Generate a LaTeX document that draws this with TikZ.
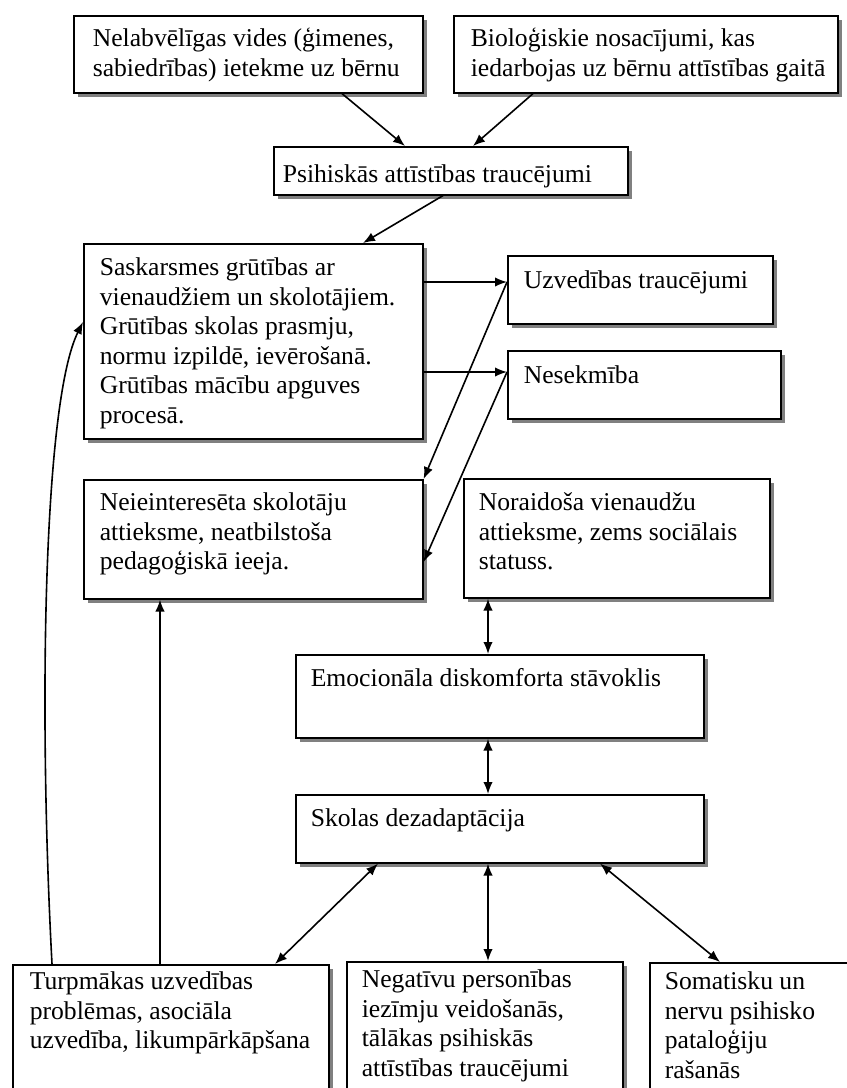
\documentclass[tikz,border=0pt]{standalone}
\usepackage{fontspec}
\setmainfont{Liberation Serif}
\usetikzlibrary{arrows.meta,calc,shadows}
\newdimen\pxu \pxu=0.468pt
% box text: width, height, left pad, top pad, lines
\newcommand{\boxtext}[5]{\parbox[c][#2\pxu][t]{#1\pxu}{\raggedright\leftskip=#3\pxu\vspace*{#4\pxu}\strut#5}}
\begin{document}
\begin{tikzpicture}[x=\pxu,y=-\pxu,line width=0.75pt,
    font=\fontsize{12}{13.8}\selectfont,
    >={Latex[length=5.6pt,width=4.4pt]},
    stage/.style={draw,fill=white,anchor=north west,inner sep=0pt,
        drop shadow={shadow xshift=4.5\pxu,shadow yshift=-4.5\pxu,fill=black!50,opacity=1}}]
    \useasboundingbox (0,0) rectangle (846,1088);

    \node[stage] (env) at (73,15) {\boxtext{349}{77}{19}{10.4}{Nelabvēlīgas vides (ģimenes,\\ sabiedrības) ietekme uz bērnu}};
    \node[stage] (bio) at (453,15) {\boxtext{384}{77}{17}{10.4}{Bioloģiskie nosacījumi, kas\\ iedarbojas uz bērnu attīstības gaitā}};
    \node[stage] (psih) at (273,146) {\boxtext{354}{48}{9}{15.4}{Psihiskās attīstības traucējumi}};
    \node[stage] (comm) at (83,243) {\boxtext{339}{195}{16}{11.4}{Saskarsmes grūtības ar\\ vienaudžiem un skolotājiem.\\ Grūtības skolas prasmju,\\ normu izpildē, ievērošanā.\\ Grūtības mācību apguves\\ procesā.}};
    \node[stage] (behav) at (507,255) {\boxtext{265}{68}{16}{12.4}{Uzvedības traucējumi}};
    \node[stage] (fail) at (507,350) {\boxtext{273}{68}{16}{12.4}{Nesekmība}};
    \node[stage] (teach) at (83,479) {\boxtext{339}{119}{16}{10.4}{Neieinteresēta skolotāju\\ attieksme, neatbilstoša\\ pedagoģiskā ieeja.}};
    \node[stage] (peers) at (463,478) {\boxtext{306}{119}{15}{11.4}{Noraidoša vienaudžu\\ attieksme, zems sociālais\\ statuss.}};
    \node[stage] (emo) at (295,654) {\boxtext{408}{83}{15}{11.4}{Emocionāla diskomforta stāvoklis}};
    \node[stage] (desad) at (295,794) {\boxtext{408}{68}{15}{11.4}{Skolas dezadaptācija}};
    \node[stage] (conduct) at (12,964) {\boxtext{316}{140}{17}{4.4}{Turpmākas uzvedības\\ problēmas, asociāla\\ uzvedība, likumpārkāpšana}};
    \node[stage] (pers) at (346,961) {\boxtext{276}{140}{15}{5.4}{Negatīvu personības\\ iezīmju veidošanās,\\ tālākas psihiskās\\ attīstības traucējumi}};
    \node[stage] (soma) at (649,962) {\boxtext{220}{140}{15}{6.4}{Somatisku un\\ nervu psihisko\\ pataloģiju\\ rašanās}};

    \draw[->] ($(env.south west)+(269,0)$) -- ($(psih.north west)+(132,0)$);
    \draw[->] ($(bio.south west)+(80,0)$) -- ($(psih.north west)+(200,0)$);
    \draw[->] ($(psih.south west)+(170,0)$) -- ($(comm.north west)+(280,0)$);
    \draw[->] ($(comm.north east)+(0,39)$) -- ($(behav.north west)+(0,27)$);
    \draw[->] ($(comm.north east)+(0,129)$) -- ($(fail.north west)+(0,22)$);
    \draw[->] ($(behav.north west)+(0,27)$) -- (teach.north east);
    \draw[->] ($(fail.north west)+(0,22)$) -- ($(teach.north east)+(0,83)$);
    \draw[<->] ($(peers.south west)+(25,0)$) -- ($(emo.north west)+(193,0)$);
    \draw[<->] ($(emo.south west)+(193,0)$) -- ($(desad.north west)+(193,0)$);
    \draw[<->] ($(desad.south west)+(83,0)$) -- ($(conduct.north west)+(263,0)$);
    \draw[<->] ($(desad.south west)+(193,0)$) -- ($(pers.north west)+(142,0)$);
    \draw[<->] ($(desad.south west)+(305,0)$) -- ($(soma.north west)+(71,0)$);
    \draw[->] ($(conduct.north west)+(148,0)$) -- ($(teach.south west)+(77,0)$);
    \draw[->] ($(conduct.north west)+(40,0)$) .. controls (38,700) and (44,400) .. ($(comm.north west)+(0,79)$);
\end{tikzpicture}
\end{document}
